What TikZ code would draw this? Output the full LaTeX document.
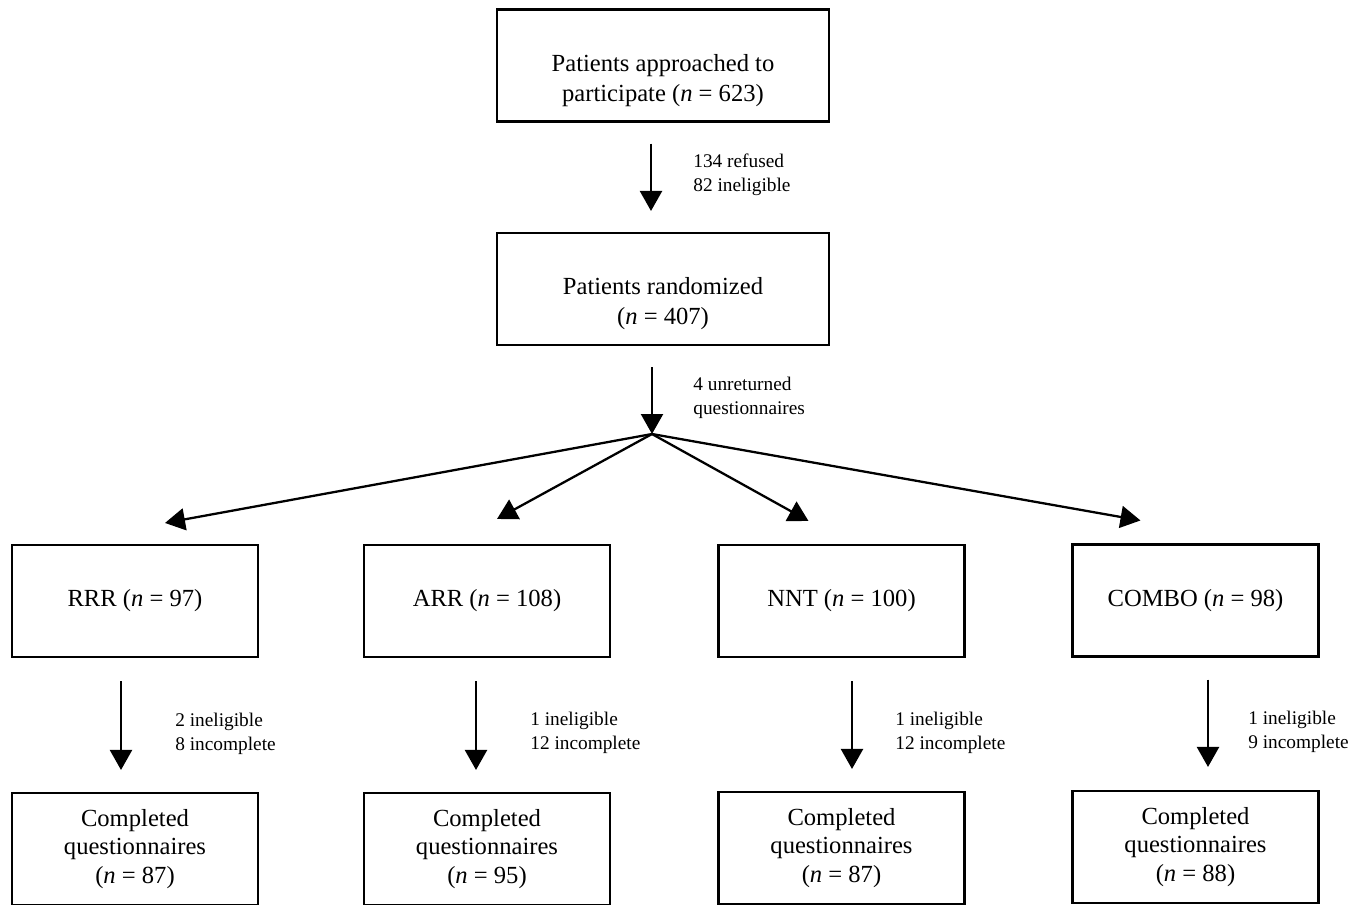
\documentclass[tikz,border=0pt]{standalone}
\usepackage{fontspec}
\setmainfont{Liberation Serif}
\usetikzlibrary{arrows.meta,positioning}
\newcommand{\ncount}[1]{(\textit{n} = #1)}

\begin{document}
\begin{tikzpicture}[x=0.02cm,y=-0.02cm,
  box/.style={draw, line width=1.2pt, minimum width=6.64cm, minimum height=2.24cm, align=center, font=\fontsize{14}{17}\selectfont, inner sep=2pt},
  armbox/.style={box, minimum width=4.92cm},
  donebox/.style={armbox, font=\fontsize{14}{16}\selectfont},
  note/.style={anchor=west, align=left, font=\fontsize{11}{13.9}\selectfont, inner sep=0pt},
  flow/.style={line width=1.3pt, -{Triangle[length=0.4cm,width=0.44cm]}}]
  \useasboundingbox (0,0) rectangle (1363,904);
  % enrolment
  \node[box, text height=43.5pt] (approached) at (663,65.5) {Patients approached to\\participate \ncount{623}};
  \node[box, text height=43.5pt] (randomized) at (663,289) {Patients randomized\\\ncount{407}};
  \coordinate (split) at (652,434);
  \draw[flow] ([shift={(-12,21)}]approached.south) -- ([shift={(-12,-21)}]randomized.north);
  \node[note] (refused) at (693,175) {134 refused\\82 ineligible};
  \draw[flow] ([shift={(-11,21)}]randomized.south) -- (split);
  \node[note] (unreturned) at (693,398) {4 unreturned\\questionnaires};
  % four arms
  \node[armbox] (rrr) at (135,601) {RRR \ncount{97}};
  \node[armbox] (arr) at (487,601) {ARR \ncount{108}};
  \node[armbox] (nnt) at (841.5,601) {NNT \ncount{100}};
  \node[armbox] (combo) at (1195.5,600.5) {COMBO \ncount{98}};
  \draw[flow] (split) -- ([shift={(30,-21)}]rrr.north);
  \draw[flow] (split) -- ([shift={(10,-25)}]arr.north);
  \draw[flow] (split) -- ([shift={(-33,-23)}]nnt.north);
  \draw[flow] (split) -- ([shift={(-55,-23)}]combo.north);
  % completed questionnaires
  \node[donebox] (donerrr) at (135,849) {Completed\\questionnaires\\\ncount{87}};
  \node[donebox] (donearr) at (487,849) {Completed\\questionnaires\\\ncount{95}};
  \node[donebox] (donennt) at (841.5,848) {Completed\\questionnaires\\\ncount{87}};
  \node[donebox] (donecombo) at (1195.5,847) {Completed\\questionnaires\\\ncount{88}};
  \draw[flow] ([shift={(-14,23)}]rrr.south) -- ([shift={(-14,-22)}]donerrr.north);
  \draw[flow] ([shift={(-11,23)}]arr.south) -- ([shift={(-11,-22)}]donearr.north);
  \draw[flow] ([shift={(10.5,23)}]nnt.south) -- ([shift={(10.5,-22)}]donennt.north);
  \draw[flow] ([shift={(12.5,22)}]combo.south) -- ([shift={(12.5,-23)}]donecombo.north);
  \node[note] (lossrrr) at (175,734) {2 ineligible\\8 incomplete};
  \node[note] (lossarr) at (530,733) {1 ineligible\\12 incomplete};
  \node[note] (lossnnt) at (895,733) {1 ineligible\\12 incomplete};
  \node[note] (losscombo) at (1248,732) {1 ineligible\\9 incomplete};
\end{tikzpicture}
\end{document}
